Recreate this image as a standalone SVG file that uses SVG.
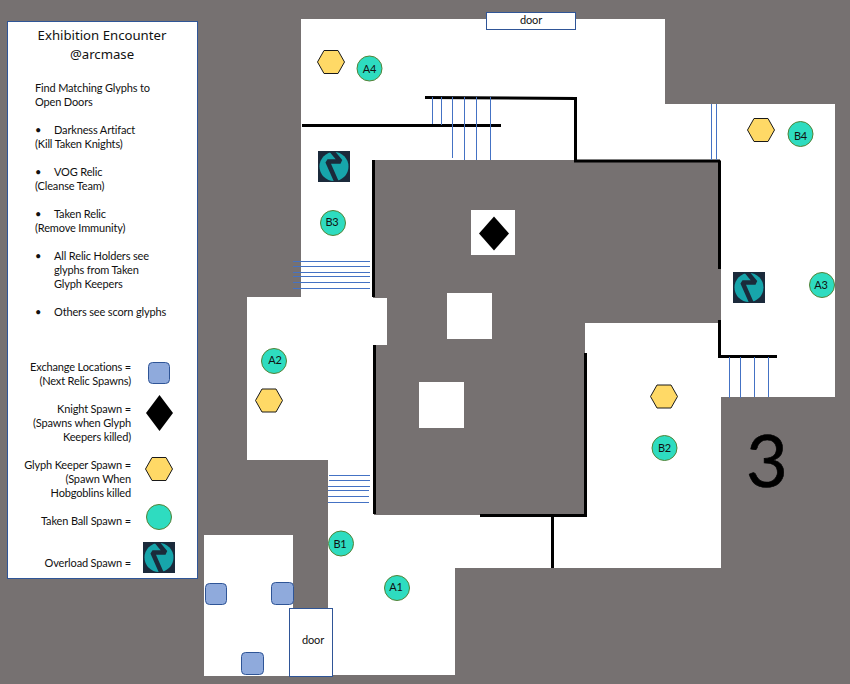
<svg xmlns="http://www.w3.org/2000/svg" width="850" height="684" viewBox="0 0 850 684">
<style>
text{font-family:Lato,"Liberation Sans",sans-serif;font-size:11px;letter-spacing:-0.15px;fill:#111}
.t{font-family:"Noto Sans","Open Sans",sans-serif;font-size:13.2px;letter-spacing:0;text-anchor:middle}
.r{text-anchor:end}
.m{text-anchor:middle}
.room{fill:#fff}
.wall{fill:none;stroke:#000;stroke-width:3}
.blue{fill:none;stroke:#4472c4;stroke-width:1}
.ball{fill:#2edcc0;stroke:#548235;stroke-width:1}
.hex{fill:#ffd966;stroke:#1a1a1a;stroke-width:1}
.ex{fill:#8faadc;stroke:#2f5597;stroke-width:1}
.box{fill:#fff;stroke:#2f5597;stroke-width:1}
</style>
<defs>
<clipPath id="ovclip"><rect width="32" height="31"/></clipPath>
<g id="ov" clip-path="url(#ovclip)">
<rect width="32" height="31" fill="#1b2a3b"/>
<circle cx="16" cy="15.500" r="14.500" fill="#17a5ab"/>
<path d="M13 -1L22.500 10.500H9.500L19 32" fill="none" stroke="#1b2a3b" stroke-width="4.500" stroke-linejoin="bevel"/>
</g>
</defs>
<rect id="background" width="850" height="684" fill="#767171"/>
<g id="floor">
<path class="room" d="M301 19H665V104H835V397H721V568H455V675H328V460H247V297H301Z"/>
<path d="M373 160H721V323H585V515H374V345H387V298H373Z" fill="#767171"/>
<rect class="room" x="471" y="210" width="44" height="45"/>
<rect class="room" x="447" y="293" width="45" height="46"/>
<rect class="room" x="419" y="382" width="45" height="46"/>
<rect class="room" x="204" y="535" width="89" height="141"/>
</g>
<g id="connectors">
<path class="wall" d="M425 97.500L575.500 98.500V161H720"/>
<path class="wall" d="M302 125.500H501"/>
<path class="wall" d="M373.500 160V297"/>
<path class="wall" d="M374.500 345V514"/>
<path class="wall" d="M719.500 161V269"/>
<path class="wall" d="M719.500 320V356.500H777"/>
<path class="wall" d="M480 515.500H585.500V353"/>
<path class="wall" d="M552.500 516V568"/>
<path class="blue" d="M432.500 97V124M441.500 97V125M452.500 97V158M464.500 97V160M476.500 97V160M490.500 97V160"/>
<path class="blue" d="M711.500 104V160M716.500 104V160"/>
<path class="blue" d="M729.500 357V398M740.500 357V398M754.500 357V397M768.500 357V397"/>
<path class="blue" d="M293 261.500H370M293 266.500H370M293 272.500H370M293 276.500H370M293 282.500H370M293 288.500H370"/>
<path class="blue" d="M329 475.500H370M329 480.500H370M328 486.500H370M328 490.500H369M328 496.500H369M328 502.500H369"/>
</g>
<g id="legend">
<rect class="box" x="7.500" y="21.500" width="190" height="557"/>
<text class="t" x="102" y="40">Exhibition Encounter</text>
<text class="t" x="102" y="59">@arcmase</text>
<text x="35" y="92">Find Matching Glyphs to</text>
<text x="35" y="106">Open Doors</text>
<text x="35" y="134">•</text><text x="54" y="134">Darkness Artifact</text>
<text x="35" y="148">(Kill Taken Knights)</text>
<text x="35" y="176">•</text><text x="54" y="176">VOG Relic</text>
<text x="35" y="190">(Cleanse Team)</text>
<text x="35" y="218">•</text><text x="54" y="218">Taken Relic</text>
<text x="35" y="232">(Remove Immunity)</text>
<text x="35" y="260">•</text><text x="54" y="260">All Relic Holders see</text>
<text x="54" y="274">glyphs from Taken</text>
<text x="54" y="288">Glyph Keepers</text>
<text x="35" y="316">•</text><text x="54" y="316">Others see scorn glyphs</text>
<text class="r" x="131" y="371">Exchange Locations =</text>
<text class="r" x="131" y="385">(Next Relic Spawns)</text>
<text class="r" x="131" y="413">Knight Spawn =</text>
<text class="r" x="131" y="427">(Spawns when Glyph</text>
<text class="r" x="131" y="441">Keepers killed)</text>
<text class="r" x="131" y="469">Glyph Keeper Spawn =</text>
<text class="r" x="131" y="483">(Spawn When</text>
<text class="r" x="131" y="497">Hobgoblins killed</text>
<text class="r" x="131" y="525">Taken Ball Spawn =</text>
<text class="r" x="131" y="567">Overload Spawn =</text>
<rect class="ex" x="148.500" y="362.500" width="21" height="21" rx="4"/>
<path d="M159.500 395L173 413L159.500 431L146 413Z" fill="#000"/>
<path class="hex" d="M145.500 469L152 457.500H166L172.500 469L166 480.500H152Z"/>
<circle class="ball" cx="159" cy="517" r="12.500"/>
<use href="#ov" x="143" y="542"/>
</g>
<g id="door-top"><rect class="box" x="486.500" y="12.500" width="89" height="17"/><text class="m" x="531" y="24">door</text></g>
<g id="door-bottom"><rect class="box" x="289.500" y="608.500" width="43" height="68"/><text class="m" x="313" y="644">door</text></g>
<g id="exchange-1"><rect class="ex" x="205.500" y="583.500" width="21" height="21" rx="4"/></g>
<g id="exchange-2"><rect class="ex" x="271.500" y="582.500" width="22" height="22" rx="4"/></g>
<g id="exchange-3"><rect class="ex" x="241.500" y="652.500" width="22" height="22" rx="4"/></g>
<g id="knight"><path d="M494 216.500L509 233.500L494 250.500L479 233.500Z" fill="#000"/></g>
<g id="keeper-1"><path class="hex" d="M317.500 62L324 50.500H338L344.500 62L338 73.500H324Z"/></g>
<g id="keeper-2"><path class="hex" d="M255.500 400.500L262 389H276L282.500 400.500L276 412H262Z"/></g>
<g id="keeper-3"><path class="hex" d="M650.500 396.500L657 385H671L677.500 396.500L671 408H657Z"/></g>
<g id="keeper-4"><path class="hex" d="M747.500 130L754 118.500H768L774.500 130L768 141.500H754Z"/></g>
<g id="overload-1"><use href="#ov" x="318" y="151"/></g>
<g id="overload-2"><use href="#ov" x="733" y="272"/></g>
<g id="A4"><circle class="ball" cx="369.500" cy="68.500" r="12.500"/><text class="m" x="369.500" y="72.500">A4</text></g>
<g id="B3"><circle class="ball" cx="333" cy="223" r="12.500"/><text class="m" x="332" y="226">B3</text></g>
<g id="A2"><circle class="ball" cx="274" cy="361" r="12.500"/><text class="m" x="275" y="364">A2</text></g>
<g id="B1"><circle class="ball" cx="341" cy="543.500" r="12.500"/><text class="m" x="340" y="548">B1</text></g>
<g id="A1"><circle class="ball" cx="397" cy="588" r="12.500"/><text class="m" x="396" y="591">A1</text></g>
<g id="B2"><circle class="ball" cx="664.500" cy="448" r="12.500"/><text class="m" x="664.500" y="452">B2</text></g>
<g id="A3"><circle class="ball" cx="822" cy="285" r="12.500"/><text class="m" x="821" y="289">A3</text></g>
<g id="B4"><circle class="ball" cx="800.500" cy="134" r="12.500"/><text class="m" x="800.500" y="140">B4</text></g>
<text class="m" x="767" y="487" style="font-size:72px;letter-spacing:0;fill:#000;stroke:#000;stroke-width:0.600">3</text>
</svg>
